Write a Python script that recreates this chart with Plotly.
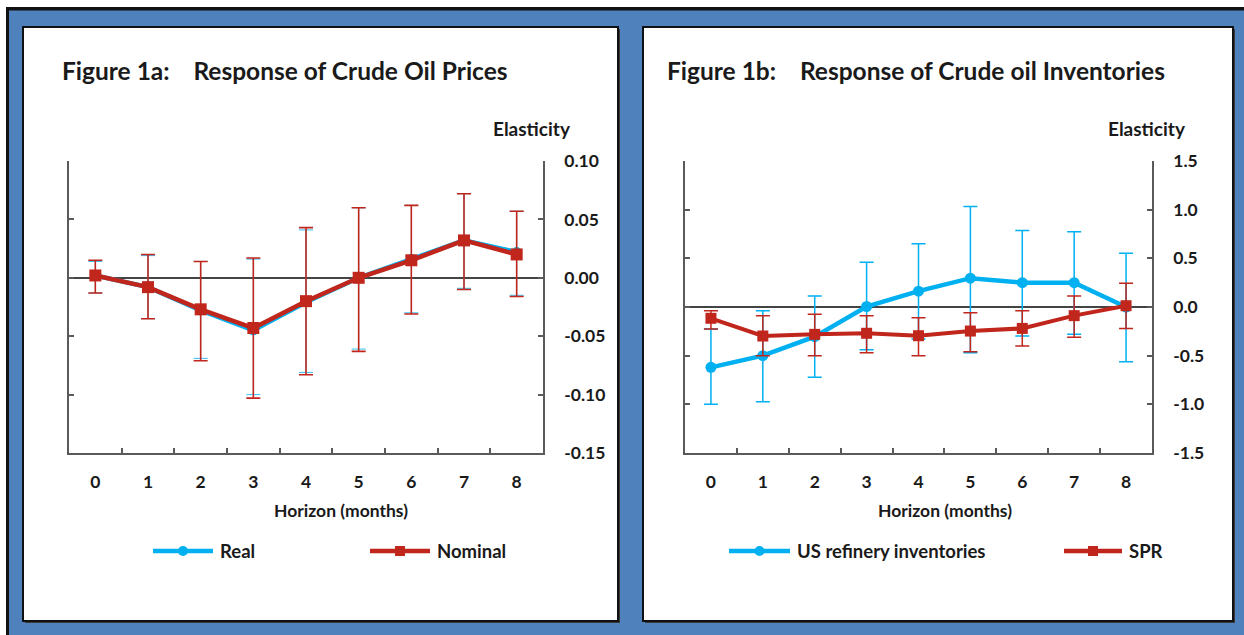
import plotly.graph_objects as go

# ---- data -------------------------------------------------------------
horizon = ["0", "1", "2", "3", "4", "5", "6", "7", "8"]

# Figure 1a: response of crude oil prices (elasticity)
real = [0.002, -0.008, -0.028, -0.045, -0.021, 0.000, 0.016, 0.032, 0.022]
real_hi = [0.014, 0.019, 0.014, 0.016, 0.041, 0.060, 0.062, 0.072, 0.057]
real_lo = [-0.013, -0.035, -0.069, -0.100, -0.081, -0.061, -0.030, -0.009, -0.015]
nominal = [0.002, -0.008, -0.027, -0.043, -0.020, 0.000, 0.015, 0.032, 0.020]
nominal_hi = [0.015, 0.020, 0.014, 0.017, 0.043, 0.060, 0.062, 0.072, 0.057]
nominal_lo = [-0.013, -0.035, -0.071, -0.103, -0.083, -0.063, -0.031, -0.010, -0.016]

# Figure 1b: response of crude oil inventories (elasticity)
refinery = [-0.62, -0.50, -0.305, 0.005, 0.163, 0.296, 0.25, 0.25, 0.0]
refinery_hi = [-0.226, -0.038, 0.113, 0.46, 0.651, 1.032, 0.785, 0.772, 0.552]
refinery_lo = [-1.0, -0.974, -0.723, -0.44, -0.33, -0.47, -0.298, -0.281, -0.563]
spr = [-0.116, -0.298, -0.281, -0.27, -0.295, -0.247, -0.22, -0.089, 0.013]
spr_hi = [-0.038, -0.089, -0.075, -0.089, -0.11, -0.06, -0.038, 0.113, 0.244]
spr_lo = [-0.226, -0.50, -0.50, -0.47, -0.50, -0.46, -0.40, -0.312, -0.22]

ticks_a = [0.10, 0.05, 0.0, -0.05, -0.10, -0.15]
ticklabels_a = ["0.10", "0.05", "0.00", "-0.05", "-0.10", "-0.15"]
ticks_b = [1.5, 1.0, 0.5, 0.0, -0.5, -1.0, -1.5]
ticklabels_b = ["1.5", "1.0", "0.5", "0.0", "-0.5", "-1.0", "-1.5"]

# ---- styling ----------------------------------------------------------
W, H = 1244, 635
BLUE = "#00B0F0"
RED = "#C0261C"
FRAME = "#4F81BD"
AXIS = "#5A5A5A"
TEXT = "#1A1A1A"
FONT = "Lato"


def px(x):
    return x / W


def py(y):
    return 1 - y / H


def plus(vals, hi):
    return [h - v for v, h in zip(vals, hi)]


def minus(vals, lo):
    return [v - l for v, l in zip(vals, lo)]


def series(x, y, hi, lo, color, symbol, width, size, xa, ya, name, err_w=1.5):
    return go.Scatter(
        x=x, y=y, name=name, mode="lines+markers", xaxis=xa, yaxis=ya,
        line=dict(color=color, width=width),
        marker=dict(color=color, symbol=symbol, size=size),
        error_y=dict(type="data", symmetric=False,
                     array=plus(y, hi), arrayminus=minus(y, lo),
                     color=color, thickness=err_w, width=7),
        showlegend=False, hoverinfo="x+y",
    )


fig = go.Figure()
fig.add_trace(series(horizon, real, real_hi, real_lo, BLUE, "circle", 4.5, 10, "x", "y", "Real", err_w=0.8))
fig.add_trace(series(horizon, nominal, nominal_hi, nominal_lo, RED, "square", 4.5, 12, "x", "y", "Nominal", err_w=1.6))
fig.add_trace(series(horizon, refinery, refinery_hi, refinery_lo, BLUE, "circle", 4.5, 11, "x2", "y2", "US refinery inventories"))
fig.add_trace(series(horizon, spr, spr_hi, spr_lo, RED, "square", 4, 11, "x2", "y2", "SPR"))

tickfont = dict(family=FONT, size=17.5, color=TEXT, weight="bold")


def xaxis(domain, anchor):
    return dict(domain=domain, anchor=anchor, type="category", range=[-0.5, 8.5],
                tickson="boundaries", ticks="inside", ticklen=5, tickcolor=AXIS,
                tickwidth=1.5, showline=True, linecolor=AXIS, linewidth=1.5,
                showgrid=False, zeroline=False, tickfont=tickfont,
                ticklabelstandoff=12, automargin=False, fixedrange=True)


def yaxis(domain, anchor, rng, tv, tt):
    return dict(domain=domain, anchor=anchor, side="right", range=rng,
                tickvals=tv, ticktext=tt, ticks="inside", ticklen=5,
                tickcolor=AXIS, tickwidth=1.5, showline=True, mirror="ticks",
                linecolor=AXIS, linewidth=1.5, showgrid=False,
                zeroline=True, zerolinecolor="#444444", zerolinewidth=1.8,
                tickfont=tickfont, ticklabelstandoff=16, automargin=False,
                fixedrange=True)


ydom = [py(453), py(161)]
fig.update_layout(
    width=W, height=H,
    margin=dict(l=0, r=0, t=0, b=0, pad=0, autoexpand=False),
    paper_bgcolor="white", plot_bgcolor="white",
    xaxis=xaxis([px(69), px(543)], "y"),
    yaxis=yaxis(ydom, "x", [-0.15, 0.10], ticks_a, ticklabels_a),
    xaxis2=xaxis([px(685), px(1152)], "y2"),
    yaxis2=yaxis(ydom, "x2", [-1.5, 1.5], ticks_b, ticklabels_b),
)

shapes = []
# outer blue frame with dark edge along the top and left
shapes.append(dict(type="rect", xref="paper", yref="paper", layer="below",
                   x0=px(6), x1=px(W + 2), y0=py(H + 2), y1=py(7),
                   fillcolor="#111111", line=dict(width=0)))
shapes.append(dict(type="rect", xref="paper", yref="paper", layer="below",
                   x0=px(9), x1=px(W + 2), y0=py(H + 2), y1=py(10.5),
                   fillcolor=FRAME, line=dict(width=0)))
# two white panels with a dark border and slight shadow
for x0, x1 in [(23, 618), (643, 1233)]:
    shapes.append(dict(type="rect", xref="paper", yref="paper", layer="below",
                       x0=px(x0 + 2), x1=px(x1 + 2), y0=py(623), y1=py(29),
                       fillcolor="#3A3A3A", line=dict(width=0)))
    shapes.append(dict(type="rect", xref="paper", yref="paper", layer="below",
                       x0=px(x0), x1=px(x1), y0=py(621), y1=py(27),
                       fillcolor="white", line=dict(color="#111111", width=2)))

annotations = []


def label(text, x, y, size, xanchor="left"):
    annotations.append(dict(text=text, x=px(x), y=py(y), xref="paper", yref="paper",
                            xanchor=xanchor, yanchor="middle", showarrow=False,
                            font=dict(family=FONT, size=size, color=TEXT, weight="bold")))


NB = "\u00a0"
label("Figure 1a:" + NB * 4 + "Response of Crude Oil Prices", 60, 71, 24.5)
label("Figure 1b:" + NB * 4 + "Response of Crude oil Inventories", 665, 71, 24.5)
label("Elasticity", 532, 128, 19, "center")
label("Elasticity", 1147, 128, 19, "center")
label("Horizon (months)", 341, 511, 17.5, "center")
label("Horizon (months)", 945, 511, 17.5, "center")

# legend entries: line swatch with marker, followed by the series name
legend_items = [
    (153, 213, BLUE, "circle", "Real"),
    (370, 430, RED, "square", "Nominal"),
    (729, 790, BLUE, "circle", "US refinery inventories"),
    (1064, 1122, RED, "square", "SPR"),
]
LY = 551
for x0, x1, color, sym, name in legend_items:
    shapes.append(dict(type="line", xref="paper", yref="paper",
                       x0=px(x0), x1=px(x1), y0=py(LY), y1=py(LY),
                       line=dict(color=color, width=4.5)))
    cx = (x0 + x1) / 2
    r = 5
    shapes.append(dict(type="circle" if sym == "circle" else "rect",
                       xref="paper", yref="paper",
                       x0=px(cx - r), x1=px(cx + r), y0=py(LY + r), y1=py(LY - r),
                       fillcolor=color, line=dict(color=color, width=0)))
    label(name, x1 + 5, LY, 18.5)

fig.update_layout(shapes=shapes, annotations=annotations)

fig.write_html("out.html")
